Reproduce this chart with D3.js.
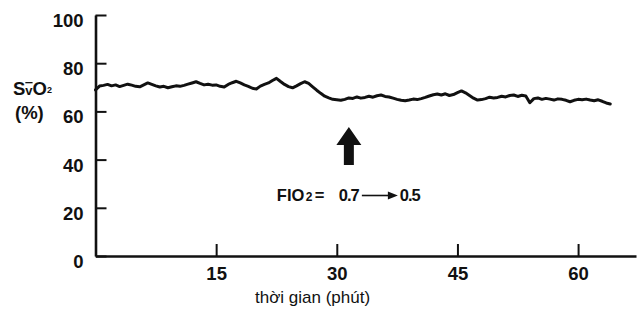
<!DOCTYPE html>
<meta charset="utf-8">
<style>
body { margin: 0; background: #fff; }
svg text { font-family: "Liberation Sans", Arial, Helvetica, sans-serif; fill: #111; }
g.axis path, g.axis line { stroke: #111; }
g.axis path { stroke-width: 2.6px; }
g.axis line { stroke-width: 2px; }
g.axis text { font-size: 18.5px; font-weight: bold; }
path.trace { fill: none; stroke: #111; stroke-width: 3px; stroke-linejoin: round; stroke-linecap: round; }
</style>
<body>
<div id="chart"></div>
<script src="https://cdnjs.cloudflare.com/ajax/libs/d3/7.8.5/d3.min.js"></script>
<script>
// SvO2 trace (minutes, percent)
var minutes = [0, 0.5, 1, 1.5, 2, 2.5, 3, 3.5, 4, 4.5, 5, 5.5, 6, 6.5, 7, 7.5, 8, 8.5, 9, 9.5,
  10, 10.5, 11, 11.5, 12, 12.5, 13, 13.5, 14, 14.5, 15, 15.5, 16, 16.5, 17, 17.5, 18, 18.5, 19, 19.5,
  20, 20.5, 21, 21.5, 22, 22.5, 23, 23.5, 24, 24.5, 25, 25.5, 26, 26.5, 27, 27.5, 28, 28.5, 29, 29.5,
  30, 30.5, 31, 31.5, 32, 32.5, 33, 33.5, 34, 34.5, 35, 35.5, 36, 36.5, 37, 37.5, 38, 38.5, 39, 39.5,
  40, 40.5, 41, 41.5, 42, 42.5, 43, 43.5, 44, 44.5, 45, 45.5, 46, 46.5, 47, 47.5, 48, 48.5, 49, 49.5,
  50, 50.5, 51, 51.5, 52, 52.5, 53, 53.5, 54, 54.5, 55, 55.5, 56, 56.5, 57, 57.5, 58, 58.5, 59, 59.5,
  60, 60.5, 61, 61.5, 62, 62.5, 63, 63.5, 64];
var svo2 = [68.9, 70.5, 70.8, 71.2, 70.6, 71.0, 70.3, 70.8, 71.3, 70.9, 70.4, 70.2, 71.0, 71.8, 71.2, 70.6, 70.1, 70.4, 69.8, 70.2,
  70.6, 70.4, 70.8, 71.3, 71.8, 72.3, 71.6, 71.0, 71.3, 70.9, 71.0, 70.4, 70.1, 71.2, 71.9, 72.5, 71.8, 71.0, 70.4, 69.6,
  69.3, 70.5, 71.2, 71.8, 72.8, 73.7, 72.4, 71.2, 70.3, 69.8, 70.6, 71.5, 72.3, 71.6, 70.2, 68.8, 67.5, 66.3, 65.6, 65.0,
  64.8, 64.6, 65.0, 65.6, 65.4, 66.0, 65.5, 65.8, 66.3, 65.9, 66.5, 66.8, 66.2, 66.0, 65.5, 65.0, 64.6, 64.4, 64.7, 65.1,
  64.9, 65.3, 65.8, 66.4, 66.9, 67.2, 66.8, 67.3, 66.6, 67.0, 67.8, 68.5, 67.7, 66.6, 65.5, 64.7, 64.9, 65.3, 65.9, 65.6,
  65.8, 66.3, 66.0, 66.6, 66.8, 66.2, 66.7, 66.4, 63.6, 65.3, 65.6, 65.0, 65.4, 65.1, 64.7, 65.2, 65.0, 64.6, 64.0, 64.6,
  65.0, 64.8, 65.1, 64.7, 64.4, 64.8, 64.2, 63.5, 63.1];

var xTicks = [15, 30, 45, 60];
var yTicks = [0, 20, 40, 60, 80, 100];

// FIO2 change marker
var changeAt = 31.5;
var arrowTop = 53.5, arrowBottom = 37.8;

var width = 639, height = 323;
var x = d3.scaleLinear().domain([0, 67.2]).range([95.5, 636]);
var y = d3.scaleLinear().domain([0, 100]).range([256, 15]);

var svg = d3.select("#chart").append("svg")
    .attr("width", width)
    .attr("height", height);

// axes
svg.append("g").attr("class", "axis y")
    .attr("transform", "translate(" + x(0) + ",0)")
    .call(d3.axisLeft(y).tickValues(yTicks).tickSizeInner(-11).tickSizeOuter(0).tickPadding(12))
    .selectAll("text").attr("dy", "0.62em");

svg.append("g").attr("class", "axis x")
    .attr("transform", "translate(0," + y(0) + ")")
    .call(d3.axisBottom(x).tickValues(xTicks).tickSizeInner(-12).tickSizeOuter(0).tickPadding(11));

// trace
var pts = minutes.map(function (m, i) { return [m, svo2[i]]; });
svg.append("path")
    .attr("class", "trace")
    .attr("d", d3.line().x(function (d) { return x(d[0]); }).y(function (d) { return y(d[1]); })(pts));

// big arrow
var ax = x(changeAt), at = y(arrowTop), ab = y(arrowBottom);
svg.append("path")
    .attr("d", "M" + ax + "," + at + " L" + (ax + 12.5) + "," + (at + 18) + " L" + (ax + 5) + "," + (at + 18) +
      " L" + (ax + 5) + "," + ab + " L" + (ax - 5) + "," + ab + " L" + (ax - 5) + "," + (at + 18) +
      " L" + (ax - 12.5) + "," + (at + 18) + "Z")
    .attr("fill", "#111");

// FIO2 annotation
var ann = svg.append("g").attr("transform", "translate(" + (ax - 72) + ",201)");
var t = ann.append("text").style("font-weight", "bold").style("font-size", "16.5px");
t.append("tspan").attr("x", 0).text("FIO");
t.append("tspan").attr("x", 29).style("font-size", "12px").text("2");
t.append("tspan").attr("x", 38).text("=");
t.append("tspan").attr("x", 62).attr("letter-spacing", "-1").text("0.7");
ann.append("line").attr("x1", 85).attr("x2", 114).attr("y1", -5.5).attr("y2", -5.5)
    .attr("stroke", "#111").attr("stroke-width", 1.6);
ann.append("path").attr("d", "M111,-9.5 L121,-5.5 L111,-1.5 Z").attr("fill", "#111");
ann.append("text").attr("x", 123).attr("letter-spacing", "-1")
    .style("font-weight", "bold").style("font-size", "16.5px").text("0.5");

// y label
var yl = svg.append("text").attr("x", 13).attr("y", 95)
    .style("font-weight", "bold").style("font-size", "18.5px");
yl.append("tspan").text("S");
yl.append("tspan").style("font-size", "13px").style("text-decoration", "overline").text("v");
yl.append("tspan").text("O");
yl.append("tspan").style("font-size", "9px").attr("dy", -2).text("2");
svg.append("text").attr("x", 15).attr("y", 119)
    .style("font-weight", "bold").style("font-size", "18.5px").text("(%)");

// x label
svg.append("text").attr("x", 255).attr("y", 303)
    .style("font-size", "17px").text("thời gian (phút)");
</script>
